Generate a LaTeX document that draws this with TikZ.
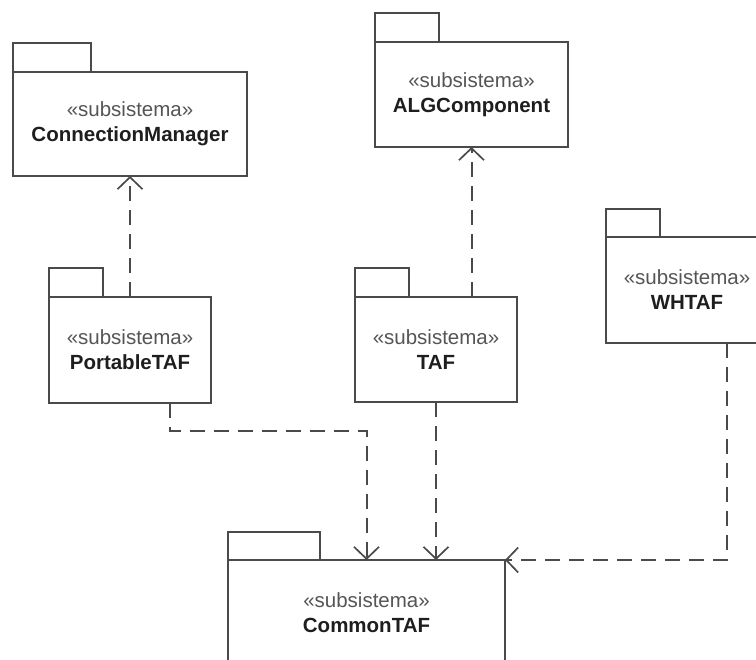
\documentclass[tikz,border=0pt]{standalone}
\usepackage{fontspec}
\setmainfont{Liberation Sans}
\usetikzlibrary{arrows.meta,calc}

\definecolor{edge}{HTML}{4A4A4A}
\definecolor{stereo}{HTML}{555555}
\definecolor{title}{HTML}{1E1E1E}

\tikzset{
  pkg/.style={draw=edge, line width=2pt, anchor=north west, outer sep=0pt,
    inner sep=0pt, align=center, text=title,
    font=\fontsize{20.5}{25}\selectfont},
  pkgtab/.style={draw=edge, line width=2pt},
  dep/.style={draw=edge, line width=2pt, dash pattern=on 15pt off 9pt,
    -{Straight Barb[length=12pt,width=25pt,line width=1.7pt]}},
}
\newcommand\pkglabel[1]{{\color{stereo}«subsistema»}\\\textbf{#1}}

\begin{document}
\begin{tikzpicture}[x=1pt,y=1pt]
  \useasboundingbox (0,0) rectangle (756,-660);
  \clip (0,0) rectangle (756,-660);

  % package bodies
  \node[pkg, minimum width=234pt, minimum height=104pt] (cm) at (13,-72) {\pkglabel{ConnectionManager}};
  \node[pkg, minimum width=193pt, minimum height=105pt] (alg) at (375,-42) {\pkglabel{ALGComponent}};
  \node[pkg, minimum width=162pt, minimum height=106pt] (port) at (49,-297) {\pkglabel{PortableTAF}};
  \node[pkg, minimum width=162pt, minimum height=105pt] (taf) at (355,-297) {\pkglabel{TAF}};
  \node[pkg, minimum width=162pt, minimum height=106pt] (wh) at (606,-237) {\pkglabel{WHTAF}};
  \node[pkg, minimum width=277pt, minimum height=105pt] (common) at (228,-560) {\pkglabel{CommonTAF}};

  % package tabs
  \draw[pkgtab] (cm.north west) rectangle ++(78,29);
  \draw[pkgtab] (alg.north west) rectangle ++(64,29);
  \draw[pkgtab] (port.north west) rectangle ++(54,29);
  \draw[pkgtab] (taf.north west) rectangle ++(54,29);
  \draw[pkgtab] (wh.north west) rectangle ++(54,28);
  \draw[pkgtab] (common.north west) rectangle ++(92,28);

  % dependencies
  \draw[dep] (port.north) -- (cm.south);
  \draw[dep] (alg.south |- taf.north) -- (alg.south);
  \draw[dep] ([xshift=40pt]port.south) -- ++(0,-28) -| (common.north);
  \draw[dep] (taf.south) -- (taf.south |- common.north);
  \draw[dep] ([xshift=40pt]wh.south) |- (common.north east);
\end{tikzpicture}
\end{document}
